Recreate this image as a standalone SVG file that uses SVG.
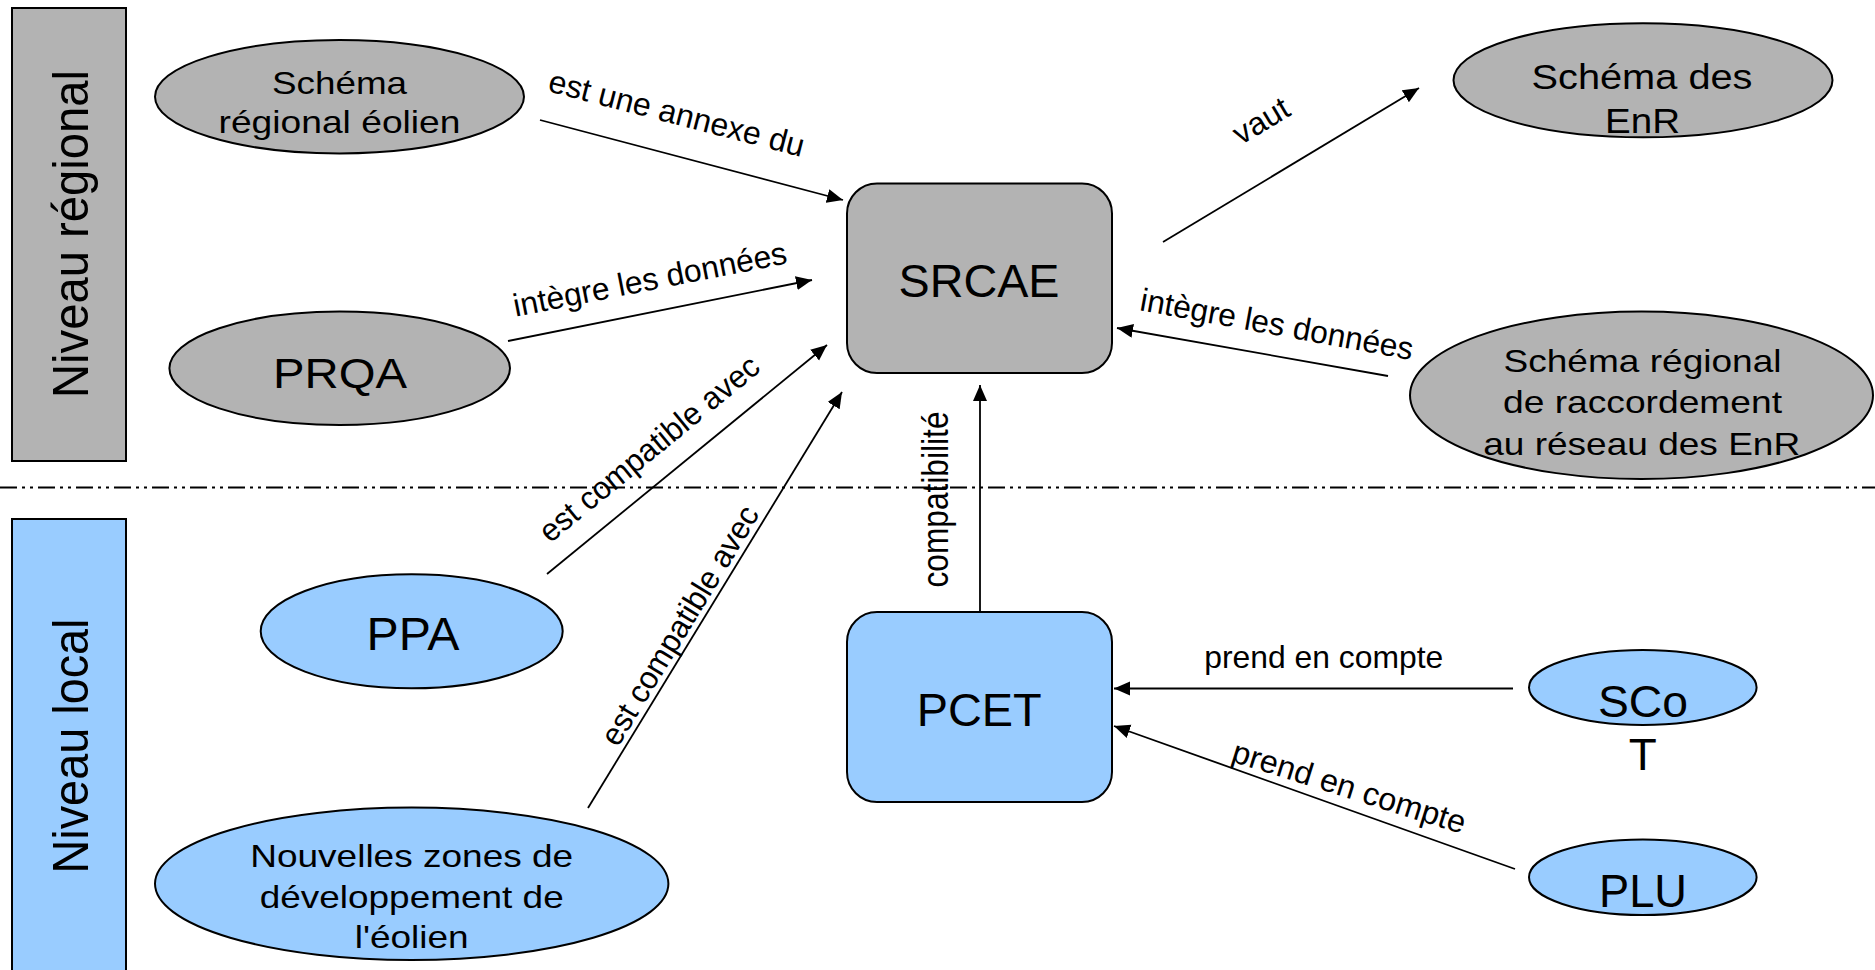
<svg xmlns="http://www.w3.org/2000/svg" width="1875" height="970" viewBox="0 0 1875 970">
<defs>
<style>
text{font-family:"Liberation Sans",Arial,sans-serif;fill:#000}
.g{fill:#b3b3b3;stroke:#000;stroke-width:2}
.b{fill:#99ccff;stroke:#000;stroke-width:2}
.n{text-anchor:middle}
.c{stroke:#000;stroke-width:1.8;fill:none;marker-end:url(#ah)}
.lbl{font-size:32px;text-anchor:middle}
</style>
<marker id="ah" markerUnits="userSpaceOnUse" markerWidth="17" markerHeight="15" refX="16" refY="7" orient="auto">
<path d="M0,0 L16,7 L0,14 z" fill="#000"/>
</marker>
</defs>
<rect width="1875" height="970" fill="#fff"/>
<line x1="0" y1="487.5" x2="1875" y2="487.5" stroke="#000" stroke-width="2" stroke-dasharray="17 5 3 5 3 5"/>

<g id="band-regional">
<rect class="g" x="12" y="8" width="114" height="453"/>
<text transform="translate(88,234) scale(1.05,1) rotate(-90)" class="n" font-size="47" textLength="328" lengthAdjust="spacingAndGlyphs">Niveau régional</text>
</g>
<g id="band-local">
<rect class="b" x="12" y="519" width="114" height="470"/>
<text transform="translate(88,746) scale(1.05,1) rotate(-90)" class="n" font-size="47" textLength="255" lengthAdjust="spacingAndGlyphs">Niveau local</text>
</g>

<g id="connectors">
<line class="c" x1="540" y1="120" x2="843" y2="200"/>
<line class="c" x1="508" y1="341" x2="812" y2="280"/>
<line class="c" x1="547" y1="574" x2="827" y2="345"/>
<line class="c" x1="588" y1="808" x2="842" y2="392"/>
<line class="c" x1="980" y1="612" x2="980" y2="385"/>
<line class="c" x1="1163" y1="242" x2="1419" y2="88"/>
<line class="c" x1="1388" y1="376" x2="1117" y2="328"/>
<line class="c" x1="1513" y1="688.5" x2="1114" y2="688.5" stroke-width="2.2"/>
<line class="c" x1="1515" y1="869" x2="1114" y2="726"/>
<text class="lbl" transform="translate(674,124) rotate(14.5)" textLength="263" lengthAdjust="spacingAndGlyphs">est une annexe du</text>
<text class="lbl" transform="translate(652,290) rotate(-11.1)" textLength="278" lengthAdjust="spacingAndGlyphs">intègre les données</text>
<text class="lbl" transform="translate(1275,335) rotate(10.4)" textLength="277" lengthAdjust="spacingAndGlyphs">intègre les données</text>
<text class="lbl" transform="translate(1266.5,130) rotate(-31)" textLength="60" lengthAdjust="spacingAndGlyphs">vaut</text>
<text class="lbl" font-size="31" transform="translate(656,457) rotate(-39.3)" textLength="274" lengthAdjust="spacingAndGlyphs">est compatible avec</text>
<text class="lbl" font-size="31" transform="translate(689,631) rotate(-58.7)" textLength="274" lengthAdjust="spacingAndGlyphs">est compatible avec</text>
<text class="lbl" font-size="32" transform="translate(948,499.5) scale(1.15,1) rotate(-90)" textLength="176" lengthAdjust="spacingAndGlyphs">compatibilité</text>
<text class="lbl" font-size="30" x="1323.7" y="668.3" textLength="239" lengthAdjust="spacingAndGlyphs">prend en compte</text>
<text class="lbl" font-size="31" transform="translate(1346,797.5) rotate(17.5)" textLength="243" lengthAdjust="spacingAndGlyphs">prend en compte</text>
</g>

<g id="schema-eolien">
<ellipse class="g" cx="339.5" cy="96.7" rx="184.5" ry="56.7"/>
<text class="n" font-size="32" x="339.5" y="94" textLength="135" lengthAdjust="spacingAndGlyphs">Schéma</text>
<text class="n" font-size="32" x="339.5" y="133" textLength="242" lengthAdjust="spacingAndGlyphs">régional éolien</text>
</g>
<g id="prqa">
<ellipse class="g" cx="339.7" cy="368.3" rx="170.3" ry="56.7"/>
<text class="n" font-size="42" x="340" y="388.3" textLength="134" lengthAdjust="spacingAndGlyphs">PRQA</text>
</g>
<g id="srcae">
<rect class="g" x="847" y="183.5" width="265" height="189.5" rx="30" ry="30"/>
<text class="n" font-size="47" x="979" y="296.7" textLength="161" lengthAdjust="spacingAndGlyphs">SRCAE</text>
</g>
<g id="schema-enr">
<ellipse class="g" cx="1643" cy="80.3" rx="189.5" ry="57"/>
<text class="n" font-size="35" x="1642" y="89.3" textLength="221" lengthAdjust="spacingAndGlyphs">Schéma des</text>
<text class="n" font-size="35" x="1642.5" y="133.3" textLength="75" lengthAdjust="spacingAndGlyphs">EnR</text>
</g>
<g id="schema-raccordement">
<ellipse class="g" cx="1641.5" cy="395.3" rx="231.5" ry="83.7"/>
<text class="n" font-size="32" x="1642.5" y="371.7" textLength="278" lengthAdjust="spacingAndGlyphs">Schéma régional</text>
<text class="n" font-size="32" x="1642.5" y="413.3" textLength="279" lengthAdjust="spacingAndGlyphs">de raccordement</text>
<text class="n" font-size="32" x="1641.7" y="455" textLength="317" lengthAdjust="spacingAndGlyphs">au réseau des EnR</text>
</g>
<g id="ppa">
<ellipse class="b" cx="411.7" cy="631.3" rx="151" ry="57"/>
<text class="n" font-size="46" x="413" y="650" textLength="93" lengthAdjust="spacingAndGlyphs">PPA</text>
</g>
<g id="zones-eolien">
<ellipse class="b" cx="411.7" cy="883.8" rx="256.7" ry="76.2"/>
<text class="n" font-size="32" x="411.7" y="866.7" textLength="323" lengthAdjust="spacingAndGlyphs">Nouvelles zones de</text>
<text class="n" font-size="32" x="411.7" y="908.3" textLength="304" lengthAdjust="spacingAndGlyphs">développement de</text>
<text class="n" font-size="32" x="411.7" y="948.3" textLength="114" lengthAdjust="spacingAndGlyphs">l'éolien</text>
</g>
<g id="pcet">
<rect class="b" x="847" y="612" width="265" height="190" rx="30" ry="30"/>
<text class="n" font-size="47" x="979.2" y="726" textLength="125" lengthAdjust="spacingAndGlyphs">PCET</text>
</g>
<g id="scot">
<ellipse class="b" cx="1642.8" cy="687.5" rx="113.8" ry="37.5"/>
<text class="n" font-size="45" x="1643" y="716.7" textLength="90" lengthAdjust="spacingAndGlyphs">SCo</text>
<text class="n" font-size="45" x="1642.8" y="770" textLength="28" lengthAdjust="spacingAndGlyphs">T</text>
</g>
<g id="plu">
<ellipse class="b" cx="1642.8" cy="877.2" rx="113.8" ry="37.8"/>
<text class="n" font-size="46" x="1643" y="906.7" textLength="88" lengthAdjust="spacingAndGlyphs">PLU</text>
</g>
</svg>
